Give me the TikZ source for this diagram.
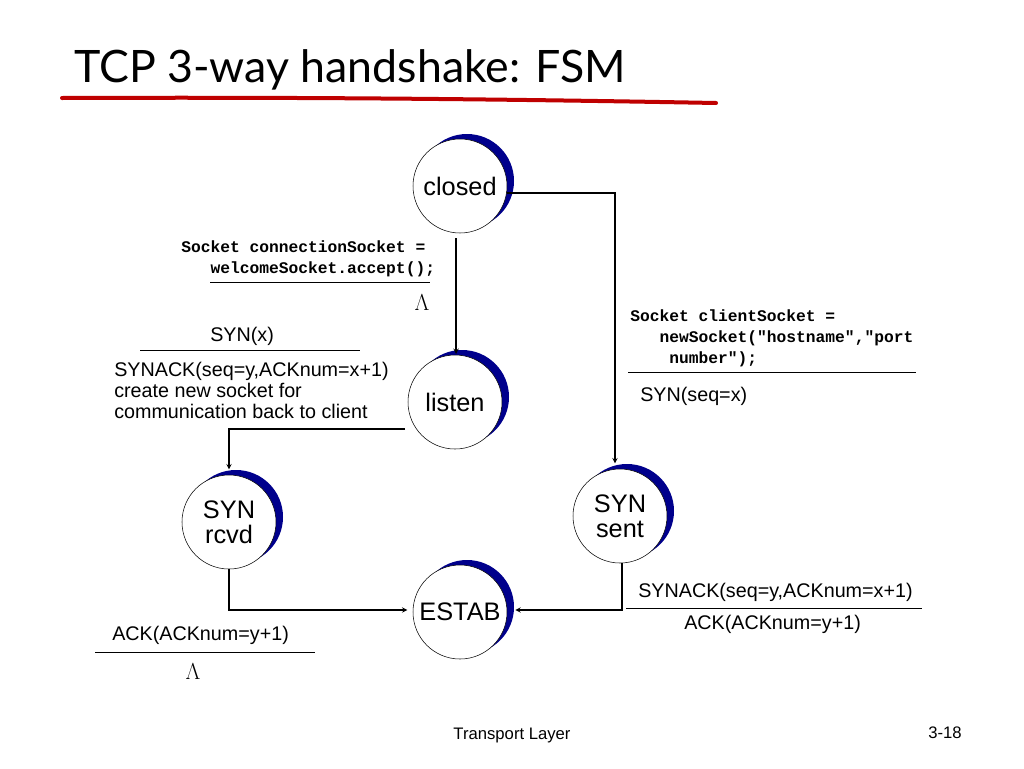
\documentclass[tikz,border=0pt]{standalone}
\usepackage{fontspec}
\setmainfont{Liberation Sans}
\setmonofont{Liberation Mono}
\newfontfamily\titlefont{Lato}
\begin{document}
\begin{tikzpicture}[x=0.75pt,y=-0.75pt,
  st/.style={circle,draw=black,fill=white,minimum size=70.5pt,inner sep=0pt,font=\fontsize{19}{19}\selectfont,align=center},
  sh/.style={circle,fill=blue!55!black,minimum size=70.5pt,inner sep=0pt},
  ar/.style={->,>=stealth,line width=0.8pt,shorten >=4pt},
  lb/.style={font=\fontsize{14.8}{15.75}\selectfont,inner sep=0pt,align=left},
  cd/.style={font=\ttfamily\bfseries\fontsize{12.2}{15.75}\selectfont,inner sep=0pt,align=left}]
\useasboundingbox (0,0) rectangle (1024,768);
\fill[white] (0,0) rectangle (1024,768);
\node[anchor=west,font=\titlefont\fontsize{33.5}{40}\selectfont,inner sep=0pt] (title) at (74,70) {TCP 3-way handshake: FSM};
\draw[red!75!black,line width=3pt,line cap=round] (62,98) .. controls (300,97) and (500,99) .. (716,103);
\foreach \n/\x/\y/\t in {closed/460/186/closed, listen/455/402/listen, rcvd/229/522/{SYN\\rcvd}, sent/620/516/{SYN\\sent}, estab/460/612/ESTAB}{
  \node[sh] (\n s) at (\x+7,\y-5) {};
  \node[st] (\n) at (\x,\y) {\t};
}
\coordinate (c1) at (615,193);
\coordinate (c2) at (229,429);
\coordinate (c3) at (229,610);
\coordinate (c4) at (622,610);
\draw[ar] (closed.east |- c1) -- (c1) -- (c1 |- sent.north);
\draw[ar,shorten >=0pt] (456,238) -- (456,354);
\draw[ar] (405,429) -- (c2) -- (c2 |- rcvd.north);
\draw[ar] (rcvd.south) -- (c3) -- (c3 -| estab.west);
\draw[ar,shorten >=6pt] (c4 |- sent.south) -- (c4) -- (c4 -| estab.east);
% labels
\node[cd,anchor=north west] (t1) at (181,240) {Socket connectionSocket =\\\ \ \ welcomeSocket.accept();};
\draw (210,282) -- (430,282);
\node (lam1) at (422,303) {\fontsize{16}{18}\selectfont$\Lambda$};
\node[lb,anchor=west] (t2) at (210,336) {SYN(x)};
\draw (140,350) -- (360,350);
\node[lb,anchor=north west] (t3) at (114,362) {SYNACK(seq=y,ACKnum=x+1)\\create new socket for\\communication back to client};
\node[cd,anchor=north west] (t4) at (630,309) {Socket clientSocket =\\\ \ \ newSocket("hostname","port\\\ \ \ \ number");};
\draw (628,372) -- (916,372);
\node[lb,anchor=west] (t5) at (640,396) {SYN(seq=x)};
\node[lb,anchor=west] (t6) at (638,592) {SYNACK(seq=y,ACKnum=x+1)};
\draw (626,608) -- (922,608);
\node[lb,anchor=west] (t7) at (684,624) {ACK(ACKnum=y+1)};
\node[lb,anchor=west] (t8) at (112,635) {ACK(ACKnum=y+1)};
\draw (95,652) -- (315,652);
\node (lam2) at (193,672) {\fontsize{16}{18}\selectfont$\Lambda$};
\node[font=\fontsize{12.5}{14}\selectfont] (foot) at (512,735) {Transport Layer};
\node[font=\fontsize{12.5}{14}\selectfont] (pg) at (945,733) {3-18};
\end{tikzpicture}
\end{document}
